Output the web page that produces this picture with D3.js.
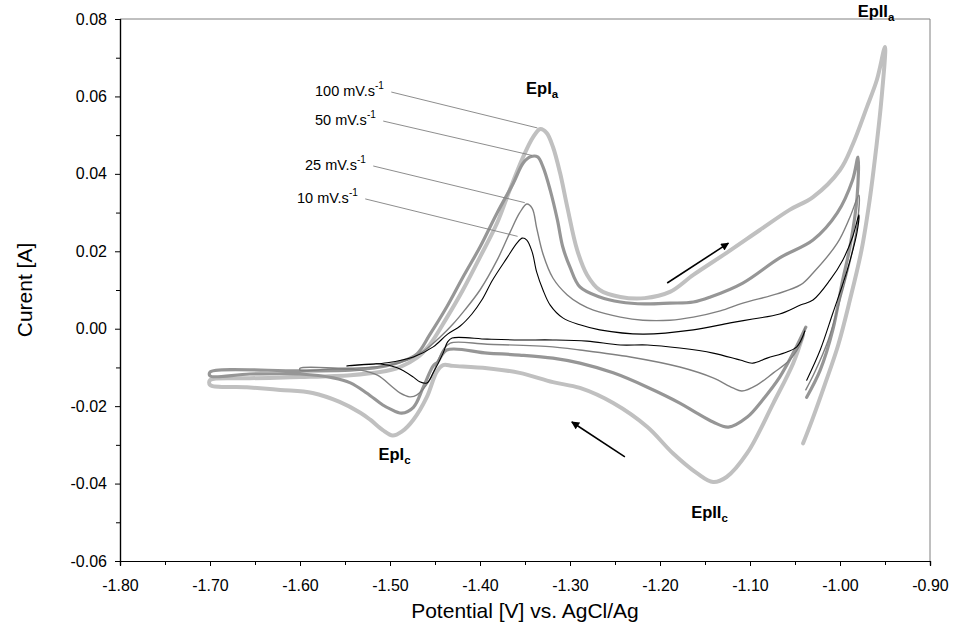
<!DOCTYPE html>
<html>
<head>
<meta charset="utf-8">
<script src="https://cdn.jsdelivr.net/npm/d3@7"></script>
<style>
  body { margin: 0; background: #fff; }
  svg, text, tspan { font-family: "Liberation Sans", Arial, sans-serif; }
</style>
</head>
<body>
<svg id="chart" width="953" height="636" font-family="Liberation Sans, Arial, sans-serif"></svg>
<script>
// ---------- DATA (Potential [V], Current [A]) ----------
const scanRates = ["100 mV.s", "50 mV.s", "25 mV.s", "10 mV.s"];

const cv100 = [
  [-1.041,-0.0016],[-1.052,-0.0089],[-1.074,-0.0192],[-1.103,-0.0321],[-1.126,-0.0383],[-1.141,-0.0396],
  [-1.159,-0.0373],[-1.186,-0.0321],[-1.214,-0.0254],[-1.252,-0.0192],[-1.289,-0.0153],[-1.319,-0.0138],
  [-1.356,-0.0114],[-1.392,-0.0102],[-1.430,-0.0096],[-1.441,-0.0094],[-1.448,-0.0111],[-1.459,-0.0176],
  [-1.474,-0.0235],[-1.487,-0.0266],[-1.497,-0.0276],[-1.508,-0.0262],[-1.522,-0.0235],[-1.533,-0.0217],
  [-1.556,-0.0189],[-1.586,-0.0166],[-1.622,-0.0158],[-1.659,-0.0151],[-1.700,-0.0145],
  [-1.700,-0.0133],[-1.656,-0.0128],[-1.600,-0.0125],[-1.544,-0.0120],[-1.511,-0.0112],[-1.489,-0.0099],
  [-1.470,-0.0075],[-1.456,-0.0042],[-1.437,0.0028],[-1.419,0.0100],[-1.400,0.0185],[-1.381,0.0273],
  [-1.367,0.0358],[-1.352,0.0444],[-1.341,0.0495],[-1.333,0.0516],[-1.326,0.0506],[-1.319,0.0470],
  [-1.311,0.0402],[-1.303,0.0314],[-1.292,0.0203],[-1.281,0.0139],[-1.267,0.0100],[-1.244,0.0082],
  [-1.217,0.0079],[-1.189,0.0095],[-1.163,0.0139],[-1.126,0.0196],[-1.089,0.0255],[-1.056,0.0307],
  [-1.030,0.0340],[-1.000,0.0410],[-0.986,0.0475],[-0.970,0.0573],[-0.959,0.0643],[-0.950,0.0728],
  [-0.954,0.0591],[-0.960,0.0462],[-0.967,0.0333],[-0.976,0.0204],[-0.989,0.0074],[-1.002,-0.0042],
  [-1.017,-0.0145],[-1.031,-0.0236],[-1.041,-0.0296]
];

const cv50 = [
  [-1.038,0.0004],[-1.052,-0.0063],[-1.067,-0.0125],[-1.086,-0.0184],[-1.103,-0.0228],[-1.124,-0.0254],
  [-1.141,-0.0241],[-1.159,-0.0218],[-1.178,-0.0192],[-1.214,-0.0151],[-1.252,-0.0114],[-1.289,-0.0089],
  [-1.319,-0.0076],[-1.356,-0.0068],[-1.392,-0.0063],[-1.437,-0.0055],[-1.447,-0.0086],[-1.452,-0.0096],
  [-1.463,-0.0151],[-1.474,-0.0203],[-1.487,-0.0218],[-1.500,-0.0207],[-1.508,-0.0197],[-1.526,-0.0166],
  [-1.544,-0.0140],[-1.563,-0.0127],[-1.600,-0.0117],[-1.656,-0.0117],[-1.700,-0.0122],
  [-1.700,-0.0112],[-1.600,-0.0109],[-1.544,-0.0107],[-1.511,-0.0099],[-1.489,-0.0086],[-1.470,-0.0065],
  [-1.456,-0.0016],[-1.437,0.0056],[-1.419,0.0133],[-1.400,0.0211],[-1.381,0.0299],[-1.363,0.0376],
  [-1.352,0.0428],[-1.344,0.0444],[-1.336,0.0444],[-1.330,0.0418],[-1.322,0.0358],[-1.314,0.0281],
  [-1.308,0.0211],[-1.300,0.0159],[-1.289,0.0108],[-1.267,0.0082],[-1.244,0.0069],[-1.217,0.0064],
  [-1.189,0.0066],[-1.163,0.0069],[-1.144,0.0082],[-1.108,0.0118],[-1.067,0.0183],[-1.030,0.0229],
  [-1.003,0.0299],[-0.986,0.0384],[-0.980,0.0443],
  [-0.981,0.0340],[-0.989,0.0211],[-0.997,0.0126],[-1.008,-0.0003],[-1.022,-0.0107],[-1.037,-0.0177]
];

const cv25 = [
  [-1.039,0.0002],[-1.042,-0.0029],[-1.056,-0.0081],[-1.074,-0.0114],[-1.092,-0.0145],[-1.109,-0.0161],
  [-1.119,-0.0153],[-1.141,-0.0127],[-1.178,-0.0099],[-1.233,-0.0073],[-1.289,-0.0055],[-1.319,-0.0047],
  [-1.392,-0.0040],[-1.433,-0.0037],[-1.441,-0.0055],[-1.456,-0.0133],[-1.470,-0.0171],[-1.478,-0.0176],
  [-1.489,-0.0166],[-1.497,-0.0151],[-1.514,-0.0120],[-1.533,-0.0107],[-1.563,-0.0104],[-1.600,-0.0107],
  [-1.600,-0.0102],[-1.544,-0.0102],[-1.500,-0.0094],[-1.478,-0.0078],[-1.461,-0.0055],[-1.444,-0.0021],
  [-1.430,0.0012],[-1.417,0.0048],[-1.400,0.0100],[-1.381,0.0177],[-1.367,0.0247],[-1.356,0.0299],
  [-1.348,0.0322],[-1.342,0.0311],[-1.337,0.0260],[-1.330,0.0193],[-1.319,0.0131],[-1.303,0.0087],
  [-1.289,0.0064],[-1.274,0.0048],[-1.244,0.0030],[-1.219,0.0022],[-1.189,0.0022],[-1.163,0.0030],
  [-1.133,0.0046],[-1.108,0.0066],[-1.070,0.0090],[-1.044,0.0113],[-1.030,0.0144],[-1.003,0.0221],
  [-0.989,0.0288],[-0.979,0.0345],
  [-0.981,0.0267],[-0.989,0.0172],[-1.000,0.0074],[-1.013,-0.0029],[-1.028,-0.0112],[-1.038,-0.0158]
];

const cv10 = [
  [-1.039,-0.0006],[-1.048,-0.0047],[-1.059,-0.0060],[-1.081,-0.0076],[-1.097,-0.0089],[-1.111,-0.0081],
  [-1.141,-0.0063],[-1.178,-0.0050],[-1.214,-0.0042],[-1.244,-0.0042],[-1.281,-0.0032],[-1.319,-0.0029],
  [-1.356,-0.0029],[-1.392,-0.0027],[-1.431,-0.0024],[-1.436,-0.0034],[-1.441,-0.0063],[-1.452,-0.0114],
  [-1.459,-0.0140],[-1.467,-0.0137],[-1.474,-0.0125],[-1.492,-0.0101],[-1.511,-0.0091],[-1.548,-0.0096],
  [-1.503,-0.0088],[-1.474,-0.0073],[-1.452,-0.0047],[-1.436,-0.0014],[-1.422,0.0007],[-1.409,0.0038],
  [-1.398,0.0074],[-1.386,0.0126],[-1.370,0.0183],[-1.359,0.0221],[-1.353,0.0234],[-1.348,0.0229],
  [-1.342,0.0198],[-1.337,0.0146],[-1.330,0.0100],[-1.322,0.0061],[-1.308,0.0028],[-1.289,0.0010],
  [-1.267,-0.0003],[-1.219,-0.0014],[-1.163,-0.0003],[-1.122,0.0015],[-1.097,0.0025],[-1.067,0.0038],
  [-1.044,0.0061],[-1.030,0.0074],[-1.011,0.0126],[-0.997,0.0177],[-0.986,0.0237],[-0.979,0.0294],
  [-0.981,0.0250],[-0.992,0.0151],[-1.008,0.0040],[-1.022,-0.0055],[-1.037,-0.0133]
];

const xTicks = [-1.80,-1.70,-1.60,-1.50,-1.40,-1.30,-1.20,-1.10,-1.00,-0.90];
const yTicks = [-0.06,-0.04,-0.02,0.00,0.02,0.04,0.06,0.08];
// annotation anchors: label position (data) and peak target (data)
const rateLabelPos = [[-1.5833,0.0601],[-1.5833,0.0526],[-1.5944,0.0410],[-1.6033,0.0325]];
const rateLabelEnd = [[-1.334,0.0516],[-1.340,0.0445],[-1.348,0.0323],[-1.356,0.0236]];
const peakLabels = [
  {main:"EpI",  sub:"a", at:[-1.331,0.0606]},
  {main:"EpII", sub:"a", at:[-0.960,0.0805]},
  {main:"EpI",  sub:"c", at:[-1.495,-0.0338]},
  {main:"EpII", sub:"c", at:[-1.145,-0.0490]}
];
const arrows = [
  {from:[-1.192,0.0118], to:[-1.124,0.0221]},
  {from:[-1.239,-0.0331], to:[-1.298,-0.0241]}
];

// ---------- CHART ----------
const FONT = "'Liberation Sans', Arial, sans-serif";
const svg = d3.select("#chart");
const L = 120, R = 930, T = 19, B = 561;
const x = d3.scaleLinear().domain([-1.80,-0.90]).range([L,R]);
const y = d3.scaleLinear().domain([-0.06,0.08]).range([B,T]);

// frame: top & right gray
svg.append("line").attr("x1",L).attr("x2",R).attr("y1",T).attr("y2",T).attr("stroke","#808080").attr("stroke-width",1);
svg.append("line").attr("x1",R).attr("x2",R).attr("y1",T).attr("y2",B).attr("stroke","#808080").attr("stroke-width",1);

const f2 = d3.format(".2f");
const fmt = v => f2(v).replace("\u2212","-");
const yAxis = d3.axisLeft(y).tickValues(yTicks).tickFormat(fmt).tickSize(5).tickPadding(8);
const xAxis = d3.axisBottom(x).tickValues(xTicks).tickFormat(fmt).tickSize(5).tickPadding(14);
const yMinor = d3.axisLeft(y).tickValues(d3.range(-0.05,0.08,0.02)).tickFormat("").tickSize(4);
const xMinor = d3.axisBottom(x).tickValues(d3.range(-1.75,-0.90,0.1)).tickFormat("").tickSize(4);

function styleAxis(g){
  g.attr("font-family",FONT);
  g.select(".domain").attr("stroke","#000").attr("stroke-width",1.2);
  g.selectAll(".tick line").attr("stroke","#000").attr("stroke-width",1);
  g.selectAll(".tick text").attr("fill","#000").style("font-size","16px").style("font-family",FONT);
}
svg.append("g").attr("transform",`translate(${L},0)`).call(yMinor).call(styleAxis);
svg.append("g").attr("transform",`translate(0,${B})`).call(xMinor).call(styleAxis);
svg.append("g").attr("transform",`translate(${L},0)`).call(yAxis).call(styleAxis);
svg.append("g").attr("transform",`translate(0,${B})`).call(xAxis).call(styleAxis);

// axis titles
svg.append("text").attr("x",(L+R)/2).attr("y",618).attr("text-anchor","middle")
  .style("font-size","21px").style("font-family",FONT).text("Potential [V] vs. AgCl/Ag");
svg.append("text").attr("transform",`translate(32,${(T+B)/2}) rotate(-90)`).attr("text-anchor","middle")
  .style("font-size","21px").style("font-family",FONT).text("Curent [A]");

// curves
const line = d3.line().x(d=>x(d[0])).y(d=>y(d[1])).curve(d3.curveCatmullRom.alpha(0.5));
const series = [
  {data:cv100, color:"#c0c0c0", w:4},
  {data:cv50,  color:"#969696", w:3.2},
  {data:cv25,  color:"#808080", w:1.4},
  {data:cv10,  color:"#000000", w:1.1}
];
series.forEach(s=>{
  svg.append("path").attr("d",line(s.data)).attr("fill","none")
    .attr("stroke",s.color).attr("stroke-width",s.w).attr("stroke-linejoin","round").attr("stroke-linecap","round");
});

// scan-rate labels with leader lines
scanRates.forEach((t,i)=>{
  const p = rateLabelPos[i], e = rateLabelEnd[i];
  const tx = svg.append("text").attr("x",x(p[0])).attr("y",y(p[1]))
    .style("font-size","14.5px").style("font-family",FONT).attr("fill","#000");
  tx.append("tspan").text(t);
  tx.append("tspan").attr("dy",-7).style("font-size","10px").text("-1");
  const bb = tx.node().getBBox();
  svg.append("line").attr("x1",bb.x+bb.width+7).attr("y1",y(p[1])-4)
    .attr("x2",x(e[0])-2).attr("y2",y(e[1])-1)
    .attr("stroke","#808080").attr("stroke-width",0.9);
});

// peak labels
peakLabels.forEach(p=>{
  const t = svg.append("text").attr("x",x(p.at[0])).attr("y",y(p.at[1])).attr("text-anchor","middle")
    .style("font-size","16.5px").style("font-weight","bold").style("font-family",FONT).attr("fill","#000");
  t.append("tspan").text(p.main);
  t.append("tspan").attr("dy",4).style("font-size","11.5px").text(p.sub);
});

// arrows
svg.append("defs").append("marker").attr("id","ah").attr("viewBox","0 0 10 10")
  .attr("refX",9).attr("refY",5).attr("markerWidth",9).attr("markerHeight",8).attr("orient","auto")
  .attr("markerUnits","userSpaceOnUse")
  .append("path").attr("d","M0,0 L10,5 L0,10 z").attr("fill","#000");
arrows.forEach(a=>{
  svg.append("line").attr("x1",x(a.from[0])).attr("y1",y(a.from[1]))
    .attr("x2",x(a.to[0])).attr("y2",y(a.to[1]))
    .attr("stroke","#000").attr("stroke-width",1.6).attr("marker-end","url(#ah)");
});
</script>
</body>
</html>
